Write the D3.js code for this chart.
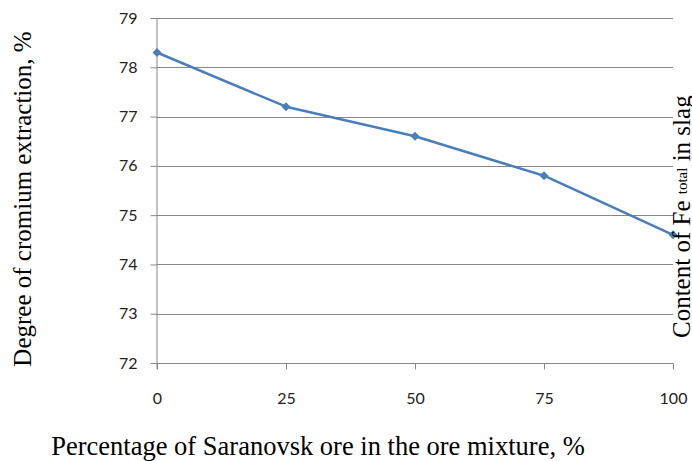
<!DOCTYPE html>
<html><head><meta charset="utf-8">
<script src="https://cdn.jsdelivr.net/npm/d3@7"></script>
<style>body{margin:0;background:#fff}svg{display:block}</style>
</head><body>
<svg id="c" width="692" height="461"></svg>
<script>
const categories = [0, 25, 50, 75, 100];
const extraction = [78.3, 77.2, 76.6, 75.8, 74.6];
const yTicks = [72, 73, 74, 75, 76, 77, 78, 79];
const xTitle = "Percentage of Saranovsk ore in the ore mixture, %";
const yTitle = "Degree of cromium extraction, %";
const y2Title = ["Content of Fe ", "total", " in slag"];

const svg = d3.select("#c");
const x = d3.scaleLinear().domain([0, 100]).range([157, 673]);
const y = d3.scaleLinear().domain([72, 79]).range([363, 18]);
const grid = "#878787";
const tickFont = "Lato, 'Open Sans', sans-serif";
const serif = "'Liberation Serif', 'Times New Roman', serif";

// horizontal gridlines
svg.append("g").selectAll("line").data(yTicks.filter(d => d !== 72)).join("line")
  .attr("x1", x(0)).attr("x2", x(100))
  .attr("y1", d => Math.round(y(d)) + 0.5).attr("y2", d => Math.round(y(d)) + 0.5)
  .attr("stroke", grid).attr("stroke-width", 1);

// y axis
const yAxis = svg.append("g").attr("transform", `translate(${x(0) + 0.5},0)`)
  .call(d3.axisLeft(y).tickValues(yTicks).tickSize(7).tickPadding(13).tickFormat(d3.format("d")));
yAxis.select(".domain").attr("stroke", grid).attr("d", `M-0.5,${y(79)}V${y(72) + 6}`);
yAxis.selectAll(".tick line").attr("stroke", grid);
yAxis.selectAll("text").attr("font-family", tickFont).attr("font-size", 16).attr("fill", "#222");

// x axis
const xAxis = svg.append("g").attr("transform", `translate(0,${Math.round(y(72)) + 0.5})`)
  .call(d3.axisBottom(x).tickValues(categories).tickSize(6).tickPadding(23).tickFormat(d3.format("d")));
xAxis.select(".domain").attr("stroke", grid).attr("d", `M${x(0)},0H${x(100)}`);
xAxis.selectAll(".tick line").attr("stroke", grid);
xAxis.selectAll("text").attr("font-family", tickFont).attr("font-size", 16).attr("fill", "#222");

// series
const pts = categories.map((c, i) => [c, extraction[i]]);
svg.append("path").datum(pts)
  .attr("fill", "none").attr("stroke", "#4A7EBB").attr("stroke-width", 2.5)
  .attr("stroke-linejoin", "round")
  .attr("d", d3.line().x(d => x(d[0])).y(d => y(d[1])));
svg.append("g").selectAll("path").data(pts).join("path")
  .attr("transform", d => `translate(${x(d[0])},${y(d[1])})`)
  .attr("d", "M0,-4.5L4.5,0L0,4.5L-4.5,0Z")
  .attr("fill", "#4A7EBB");

// titles
svg.append("text").attr("x", 318).attr("y", 455).attr("text-anchor", "middle")
  .attr("font-family", serif).attr("font-size", 26.5).attr("fill", "#000").text(xTitle);
svg.append("text").attr("transform", "translate(31,199) rotate(-90)").attr("text-anchor", "middle")
  .attr("font-family", serif).attr("font-size", 25).attr("fill", "#000").text(yTitle);
const t2 = svg.append("text").attr("transform", "translate(690,338) rotate(-90)").attr("text-anchor", "start")
  .attr("font-family", serif).attr("font-size", 25).attr("fill", "#000");
t2.append("tspan").text(y2Title[0]);
t2.append("tspan").attr("font-size", 15).attr("dy", -3).text(y2Title[1]);
t2.append("tspan").attr("dy", 3).text(y2Title[2]);
</script>
</body></html>
